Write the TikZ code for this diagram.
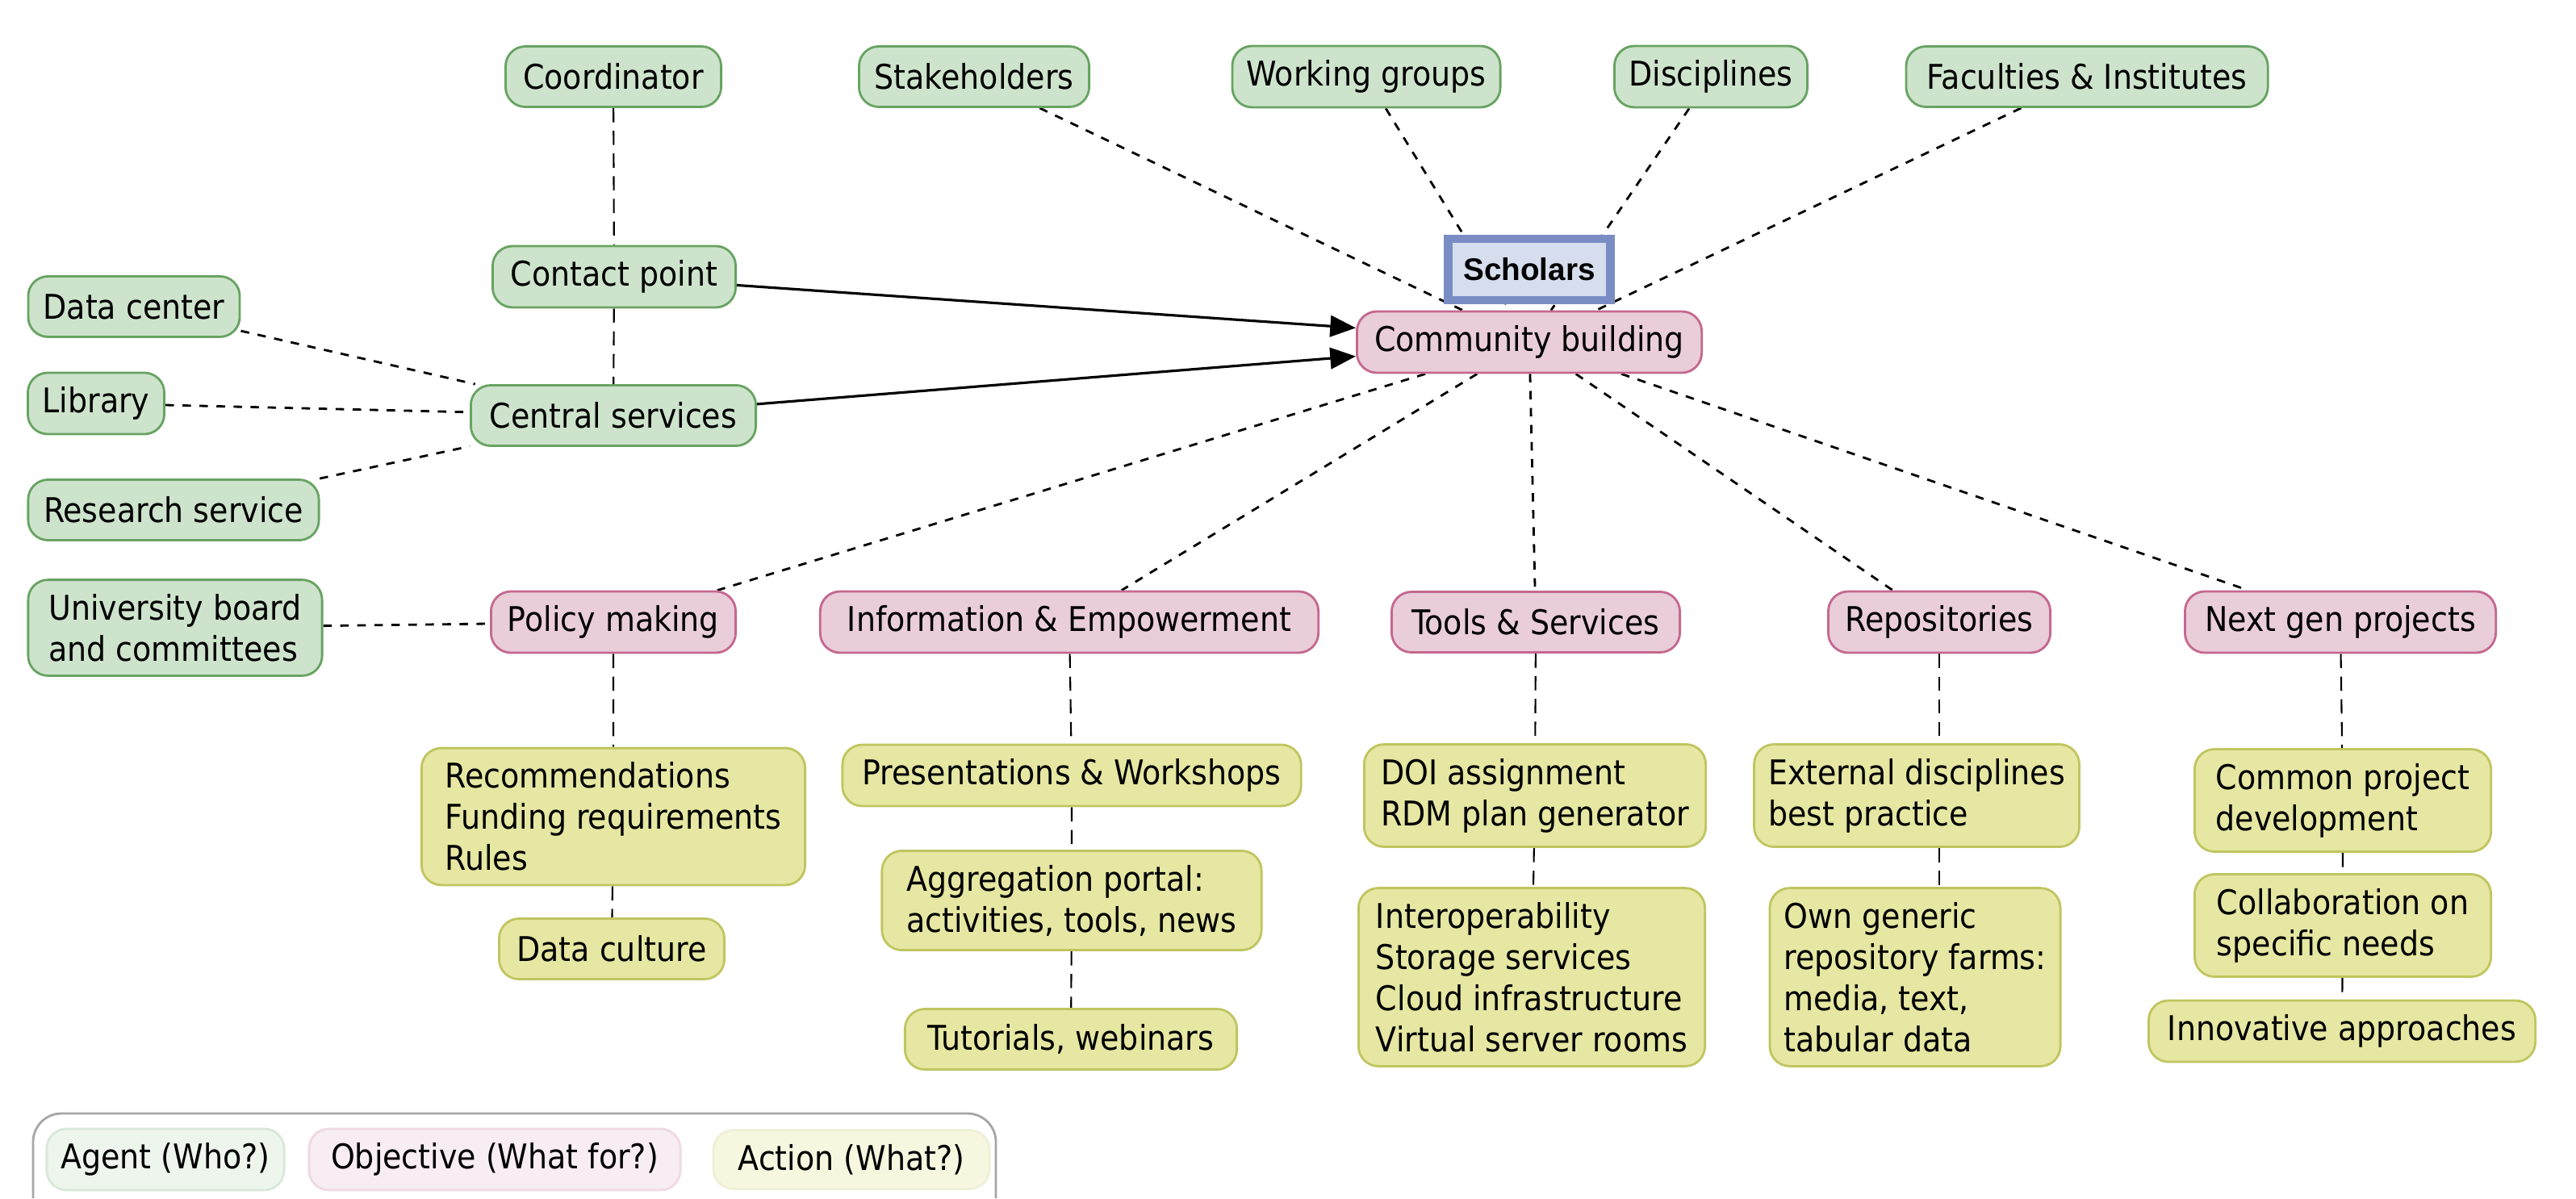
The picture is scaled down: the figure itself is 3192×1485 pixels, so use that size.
\documentclass[tikz,border=0pt]{standalone}
\usepackage{fontspec}
\setmainfont{DejaVu Sans Condensed}
\newfontfamily\helv{Liberation Sans}
\usetikzlibrary{arrows.meta,backgrounds,shadows}

\definecolor{agentfill}{RGB}{205,227,204}
\definecolor{agentdraw}{RGB}{104,163,98}
\definecolor{goalfill}{RGB}{233,205,217}
\definecolor{goaldraw}{RGB}{196,104,144}
\definecolor{actfill}{RGB}{229,231,162}
\definecolor{actdraw}{RGB}{192,197,96}
\definecolor{schfill}{RGB}{214,221,237}
\definecolor{schdraw}{RGB}{122,140,196}

\begin{document}
\begin{tikzpicture}[x=0.01cm,y=-0.01cm,
  every node/.style={font=\fontsize{12}{14.5}\selectfont, rounded corners=7pt, inner sep=5pt, minimum height=0.75cm, line width=0.8pt},
  agent/.style={draw=agentdraw, fill=agentfill},
  goal/.style={draw=goaldraw, fill=goalfill},
  act/.style={draw=actdraw, fill=actfill, align=left},
  agentkey/.style={draw=agentdraw!25, fill=agentfill!35},
  goalkey/.style={draw=goaldraw!25, fill=goalfill!35},
  actkey/.style={draw=actdraw!25, fill=actfill!35},
  scholar/.style={draw=schdraw, fill=schfill, line width=3pt, rounded corners=0pt, minimum width=2.01cm, minimum height=0.76cm,
    font=\helv\bfseries\fontsize{11}{13}\selectfont, drop shadow={opacity=0.15, shadow xshift=1.5pt, shadow yshift=-1.5pt}},
  link/.style={dashed, line width=0.8pt},
  vlink/.style={dash pattern=on 5pt off 3pt, line width=0.6pt},
  feed/.style={line width=0.9pt, -{Triangle[length=9pt,width=7.5pt]}}]
\useasboundingbox (0,0) rectangle (3192,1485);

\node[agent, minimum width=2.67cm] (coord) at (760,95) {Coordinator};
\node[agent, minimum width=2.85cm] (stake) at (1207,95) {Stakeholders};
\node[agent, minimum width=3.32cm] (wg) at (1693,95) {Working groups};
\node[agent, minimum width=2.39cm] (disc) at (2120,95) {Disciplines};
\node[agent, minimum width=4.48cm] (fac) at (2586,95) {Faculties \& Institutes};

\node[scholar] (sch) at (1895,334) {Scholars};
\node[goal, minimum width=4.27cm] (cb) at (1895,424) {Community building};

\node[agent, minimum width=3.01cm] (contact) at (761,343) {Contact point};
\node[agent, minimum width=3.53cm] (central) at (760,515) {Central services};
\node[agent, minimum width=2.62cm] (datac) at (166,380) {Data center};
\node[agent, minimum width=1.69cm] (lib) at (119,500) {Library};
\node[agent, minimum width=3.60cm] (research) at (215,632) {Research service};
\node[agent, align=left, minimum width=3.64cm] (board) at (217,778) {University board\\and committees};

\node[goal, minimum width=3.03cm] (policy) at (760,771) {Policy making};
\node[goal, minimum width=6.17cm] (info) at (1325,771) {Information \& Empowerment};
\node[goal, minimum width=3.57cm] (tools) at (1903,771) {Tools \& Services};
\node[goal, minimum width=2.75cm] (repo) at (2403,771) {Repositories};
\node[goal, minimum width=3.85cm] (nextgen) at (2900,771) {Next gen projects};

\node[act, minimum width=4.75cm] (recom) at (760,1012) {Recommendations\\Funding requirements\\Rules};
\node[act, minimum width=2.79cm] (culture) at (758,1176) {Data culture};
\node[act, minimum width=5.68cm] (pres) at (1328,961) {Presentations \& Workshops};
\node[act, minimum width=4.70cm] (portal) at (1328,1116) {Aggregation portal:\\activities, tools, news};
\node[act, minimum width=4.11cm] (tut) at (1327,1288) {Tutorials, webinars};
\node[act, minimum width=4.23cm] (doi) at (1902,986) {DOI assignment\\RDM plan generator};
\node[act, minimum width=4.29cm] (interop) at (1898,1211) {Interoperability\\Storage services\\Cloud infrastructure\\Virtual server rooms};
\node[act, minimum width=3.72cm] (extern) at (2375,986) {External disciplines\\best practice};
\node[act, minimum width=3.44cm] (own) at (2373,1211) {Own generic\\repository farms:\\media, text,\\tabular data};
\node[act, minimum width=3.67cm] (common) at (2903,992) {Common project\\development};
\node[act, minimum width=3.67cm] (collab) at (2903,1147) {Collaboration on\\specific needs};
\node[act, minimum width=4.79cm] (innov) at (2902,1278) {Innovative approaches};

\draw[gray!70, line width=0.8pt, rounded corners=10pt] (41,1485) |- (1234,1380) -- (1234,1485);
\node[agentkey, minimum width=2.93cm, minimum height=0.72cm] (keyagent) at (205,1437) {Agent (Who?)};
\node[goalkey, minimum width=4.60cm, minimum height=0.72cm] (keygoal) at (613,1437) {Objective (What for?)};
\node[actkey, minimum width=3.42cm, minimum height=0.72cm] (keyact) at (1055,1437) {Action (What?)};

\begin{scope}[on background layer]
\draw[link] (stake) -- (cb);
\draw[link] (wg) -- (cb);
\draw[link] (disc) -- (cb);
\draw[link] (fac) -- (cb);
\draw[vlink] (coord) -- (contact) -- (central);
\draw[link] (datac) -- (central);
\draw[link] (lib) -- (central);
\draw[link] (research) -- (central);
\draw[link] (board) -- (policy);
\draw[link] (cb) -- (policy);
\draw[link] (cb) -- (info);
\draw[link] (cb) -- (tools);
\draw[link] (cb) -- (repo);
\draw[link] (cb) -- (nextgen);
\draw[vlink] (policy) -- (recom) -- (culture);
\draw[vlink] (info) -- (pres) -- (portal) -- (tut);
\draw[vlink] (tools) -- (doi) -- (interop);
\draw[vlink] (repo.south) -- (repo.south |- extern.north) (repo.south |- extern.south) -- (repo.south |- own.north);
\draw[vlink] (nextgen) -- (common) -- (collab) -- (innov);
\end{scope}

\draw[feed] (contact) -- ([yshift=5pt]cb.west);
\draw[feed] (central) -- ([yshift=-5pt]cb.west);
\end{tikzpicture}
\end{document}
